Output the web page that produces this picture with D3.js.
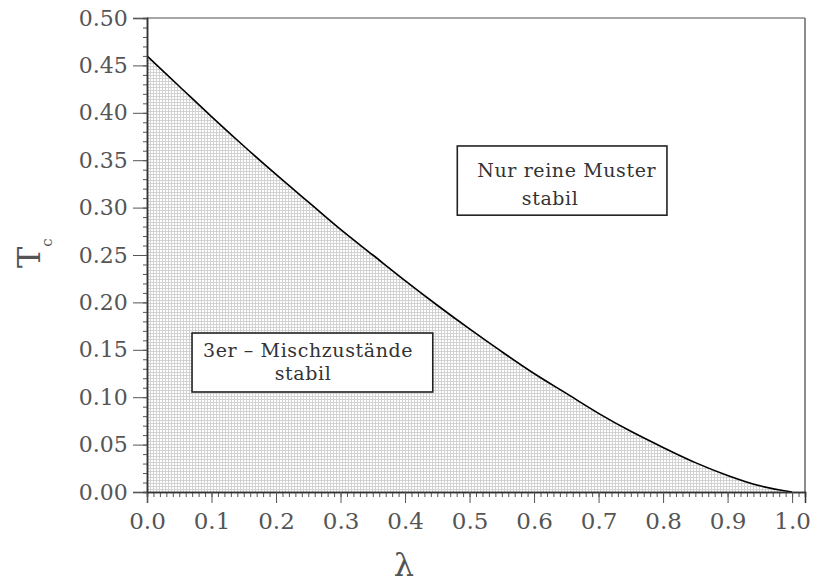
<!DOCTYPE html>
<html>
<head>
<meta charset="utf-8">
<script src="https://cdn.jsdelivr.net/npm/d3@7"></script>
<style>
  body { margin: 0; background: #fff; }
  text { font-family: "DejaVu Serif", serif; }
</style>
</head>
<body>
<script>
// values
const lambda = [0, 0.05, 0.1, 0.15, 0.2, 0.25, 0.3, 0.35, 0.4, 0.45, 0.5,
                0.55, 0.6, 0.65, 0.7, 0.75, 0.8, 0.85, 0.9, 0.95, 1.0];
const tc = [0.460, 0.428, 0.396, 0.365, 0.335, 0.306, 0.277, 0.250, 0.223, 0.197, 0.172,
            0.148, 0.125, 0.104, 0.083, 0.064, 0.047, 0.031, 0.0175, 0.0065, 0.0];
const xMajor = [0, 0.1, 0.2, 0.3, 0.4, 0.5, 0.6, 0.7, 0.8, 0.9, 1.0];
const yMajor = [0, 0.05, 0.1, 0.15, 0.2, 0.25, 0.3, 0.35, 0.4, 0.45, 0.5];
const boxes = [
  {x0: 0.481, x1: 0.806, y0: 0.365, y1: 0.292,
   lines: [{t: "Nur reine Muster", x: 0.512, y: 0.332}, {t: "stabil", x: 0.581, y: 0.303}]},
  {x0: 0.0698, x1: 0.443, y0: 0.1677, y1: 0.1055,
   lines: [{t: "3er \u2013 Mischzust\u00e4nde", x: 0.0868, y: 0.1424}, {t: "stabil", x: 0.198, y: 0.118}]}
];

const width = 817, height = 584;
const svg = d3.select("body").append("svg")
  .attr("width", width)
  .attr("height", height);

const x = d3.scaleLinear().domain([0, 1.02]).range([147, 805]);
const y = d3.scaleLinear().domain([0, 0.5]).range([492, 18]);

// dotted shading
const defs = svg.append("defs");
const pat = defs.append("pattern")
  .attr("id", "dots")
  .attr("patternUnits", "userSpaceOnUse")
  .attr("width", 3).attr("height", 3);
pat.append("rect").attr("width", 3).attr("height", 3).attr("fill", "#fff");
pat.append("rect").attr("width", 1).attr("height", 3).attr("fill", "#d2d2d2");
pat.append("rect").attr("width", 3).attr("height", 1).attr("fill", "#d2d2d2");

const pts = lambda.map((l, i) => [l, tc[i]]);

svg.append("path")
  .datum(pts)
  .attr("fill", "url(#dots)")
  .attr("shape-rendering", "crispEdges")
  .attr("d", d3.area().x(d => x(d[0])).y0(y(0)).y1(d => y(d[1])).curve(d3.curveMonotoneX));

svg.append("path")
  .datum(pts)
  .attr("fill", "none")
  .attr("stroke", "#000")
  .attr("stroke-width", 1.6)
  .attr("d", d3.line().x(d => x(d[0])).y(d => y(d[1])).curve(d3.curveMonotoneX));

// frame
svg.append("line").attr("x1", x(0)).attr("x2", x(1.02)).attr("y1", y(0.5)).attr("y2", y(0.5))
  .attr("stroke", "#888").attr("stroke-width", 1.5);
svg.append("line").attr("x1", x(1.02)).attr("x2", x(1.02)).attr("y1", y(0.5)).attr("y2", y(0))
  .attr("stroke", "#666").attr("stroke-width", 1.5);

// axes
const xMinor = d3.range(0, 103).map(i => i / 100);
const yMinor = d3.range(0, 51).map(i => i / 100);

const gx = svg.append("g").attr("transform", `translate(0,${y(0)})`);
gx.call(d3.axisBottom(x).tickValues(xMinor).tickSize(5).tickFormat(""));
gx.append("g").call(d3.axisBottom(x).tickValues(xMajor).tickSize(11).tickFormat(d3.format(".1f")));

const gy = svg.append("g").attr("transform", `translate(${x(0)},0)`);
gy.call(d3.axisLeft(y).tickValues(yMinor).tickSize(4).tickFormat(""));
gy.append("g").call(d3.axisLeft(y).tickValues(yMajor).tickSize(14).tickFormat(d3.format(".2f")));

svg.selectAll(".domain").attr("stroke", "#333").attr("stroke-width", 1.5);
svg.selectAll(".tick line").attr("stroke", "#555");
gx.selectAll(".tick text").attr("font-size", 23).attr("fill", "#555")
  .attr("font-family", "DejaVu Serif").attr("dy", "1.02em");
gy.selectAll(".tick text").attr("font-size", 22).attr("fill", "#555")
  .attr("font-family", "DejaVu Serif").attr("dx", "-0.1em");

// boxes
boxes.forEach(b => {
  svg.append("rect")
    .attr("x", x(b.x0)).attr("y", y(b.y0))
    .attr("width", x(b.x1) - x(b.x0)).attr("height", y(b.y1) - y(b.y0))
    .attr("fill", "#fff").attr("stroke", "#222").attr("stroke-width", 1.6);
  b.lines.forEach(l => {
    svg.append("text").attr("x", x(l.x)).attr("y", y(l.y))
      .attr("font-size", 19).attr("letter-spacing", 0.6).attr("fill", "#333").text(l.t);
  });
});

// axis titles
const yt = svg.append("text")
  .attr("transform", "translate(40,268) rotate(-90)")
  .attr("font-size", 32).attr("fill", "#555");
yt.append("tspan").text("T");
yt.append("tspan").attr("font-size", 15).attr("dy", 12).text("c");

svg.append("text")
  .attr("x", 404).attr("y", 576)
  .attr("text-anchor", "middle")
  .attr("font-size", 32).attr("fill", "#555")
  .text("\u03bb");
</script>
</body>
</html>
